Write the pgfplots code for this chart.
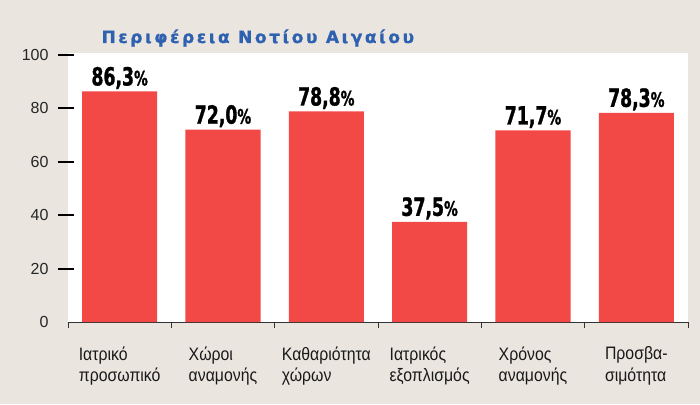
\documentclass[border=0pt]{standalone}
\usepackage{fontspec}
\usepackage{pgfplots}
\pgfplotsset{compat=1.18}
\setmainfont{Liberation Sans}
\newfontfamily\labfont[FakeStretch=0.88]{Liberation Sans}
\newfontfamily\valfont[FakeStretch=0.69, BoldFeatures={FakeBold=1.2}]{DejaVu Sans}
\newfontfamily\titlefont[LetterSpace=15, BoldFeatures={FakeBold=1}]{DejaVu Sans}
\definecolor{bg}{RGB}{234,229,223}
\definecolor{barred}{RGB}{242,73,71}
\definecolor{titleblue}{RGB}{46,98,176}

% satisfaction per service, percent
\pgfplotstableread{
x val
0 86.3
1 72.0
2 78.8
3 37.5
4 71.7
5 78.3
}\ratings

\begin{document}
\begin{tikzpicture}
\path[use as bounding box, fill=bg] (-68pt,-82pt) rectangle (632pt,322pt);
\begin{axis}[
  scale only axis, width=620pt, height=269pt,
  xmin=-0.5, xmax=5.5, ymin=0, ymax=100.7,
  axis background/.style={fill=white},
  axis x line*=bottom, axis y line*=left,
  x axis line style={-, draw=black!80, line width=1pt},
  y axis line style={draw=none},
  tick align=inside,
  ytick={20,40,60,80,100},
  extra y ticks={0}, extra y tick style={major tick length=0pt},
  major tick length=16pt,
  y tick style={line width=2pt, black, xshift=-10pt},
  /pgf/number format/assume math mode=true,
  yticklabel style={font=\fontsize{16}{16}\selectfont, text=black!85, anchor=east, xshift=-16pt},
  xtick={0,...,5},
  xticklabels={{Ιατρικό\\προσωπικό},{Χώροι\\αναμονής},{Καθαριότητα\\χώρων},{Ιατρικός\\εξοπλισμός},{Χρόνος\\αναμονής},{Προσβα-\\σιμότητα}},
  xticklabel style={align=left, anchor=north, yshift=-5pt, text=black!90,
    font=\labfont\fontsize{18}{21.5}\selectfont},
  major x tick style={draw=none},
  minor xtick={-0.5,0.5,...,5.5},
  minor tick length=6pt,
  minor x tick style={black!80, line width=0.8pt},
  ybar, bar width=0.726,
  nodes near coords={\valfont\bfseries\fontsize{25}{25}\selectfont\pgfmathprintnumber{\pgfplotspointmeta}{\fontsize{20}{20}\selectfont\%}},
  nodes near coords style={anchor=base, yshift=6pt, text=black,
    /pgf/number format/.cd, fixed, fixed zerofill, precision=1, use comma, assume math mode=true},
  clip=false,
]
\addplot[fill=barred, draw=none] table[x=x, y=val] {\ratings};
\end{axis}
\node[anchor=base west, text=titleblue, font=\titlefont\bfseries\fontsize{17}{17}\selectfont]
  at (30pt,279pt) {Περιφέρεια Νοτίου Αιγαίου};
\end{tikzpicture}
\end{document}
